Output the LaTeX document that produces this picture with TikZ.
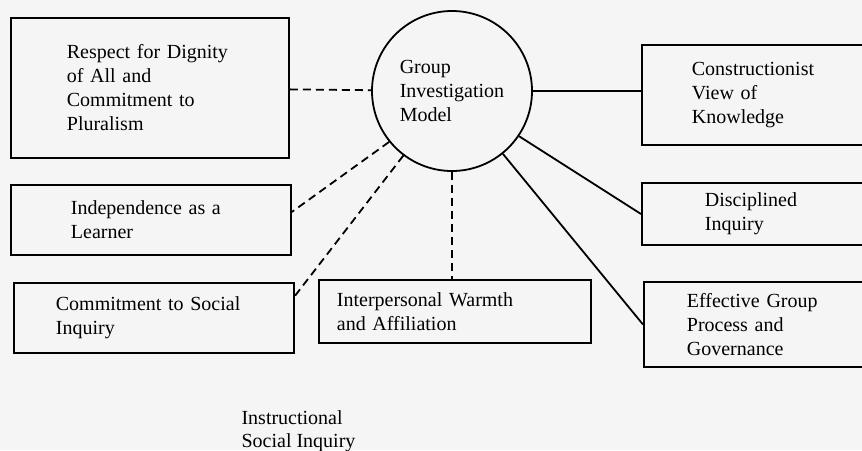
\documentclass[tikz,border=0pt]{standalone}
\usepackage{fontspec}
\setmainfont{Liberation Serif}
\usetikzlibrary{calc}
\tikzset{every picture/.style={
  line width=0.9pt              % Heavy scanned-looking rules.
  }
}

\begin{document}
\begin{tikzpicture}[x=0.5pt,y=-0.5pt,
    factor/.style={             % Boxes denoting the model's elements.
      rectangle,
      draw,
      anchor=west,
      align=left,
      inner ysep=0pt,
      font=\fontsize{10}{12}\selectfont
    },
    model/.style={              % The central circle.
      circle,
      draw,
      minimum size=80pt,
      inner sep=0pt,
      align=left,
      font=\fontsize{10}{12}\selectfont
    },
    lbl/.style={                % Styling of the caption text.
      anchor=west,
      align=left,
      font=\fontsize{10}{11.5}\selectfont
    },
    nurture/.style={dash pattern=on 4pt off 2.5pt},
    instruct/.style={}]

    % Page area.
    \clip (0,0) rectangle (862,450);
    \fill[black!4] (0,0) rectangle (862,450);

    % The model in the middle.
    \node[model] (circ) at (452,91) {Group\\Investigation\\Model};

    % Nurturant effects on the left and below.
    \node[factor,text width=83pt,inner xsep=28pt,minimum height=70pt]
      (resp) at (10,88) {Respect for Dignity\\of All and\\Commitment to\\Pluralism};
    \node[factor,text width=80pt,inner xsep=30pt,minimum height=35pt]
      (indep) at (10,220) {Independence as a\\Learner};
    \node[factor,text width=98pt,inner xsep=21pt,minimum height=35pt]
      (comm) at (13,318) {Commitment to Social\\Inquiry};
    \node[factor,text width=118pt,inner xsep=9pt,minimum height=31.5pt]
      (warm) at (318,311.5) {Interpersonal Warmth\\and Affiliation};

    % Instructional effects on the right.
    \node[factor,text width=100pt,inner xsep=25pt,minimum height=50pt]
      (cons) at (641,95) {Constructionist\\View of\\Knowledge};
    \node[factor,text width=100pt,inner xsep=31.5pt,minimum height=31pt]
      (disc) at (641,214) {Disciplined\\Inquiry};
    \node[factor,text width=100pt,inner xsep=21.5pt,minimum height=42.5pt]
      (eff) at (643,324.5) {Effective Group\\Process and\\Governance};

    \node[lbl] (cap) at (234,431) {Instructional\\Social Inquiry};

    % Dashed links to the nurturant effects.
    \draw[nurture] (resp) -- (circ);
    \draw[nurture] (circ.219) -- ([yshift=4pt] indep.east);
    \draw[nurture] (circ.233) -- ([yshift=-7pt] comm.north east);
    \draw[nurture] (circ) -- (circ |- warm.north);

    % Solid links to the instructional effects.
    \draw[instruct] (circ) -- (circ -| cons.west);
    \draw[instruct] (circ.-34) -- (disc.west);
    \draw[instruct] (circ.-51) -- (eff.west);
  \end{tikzpicture}
\end{document}
